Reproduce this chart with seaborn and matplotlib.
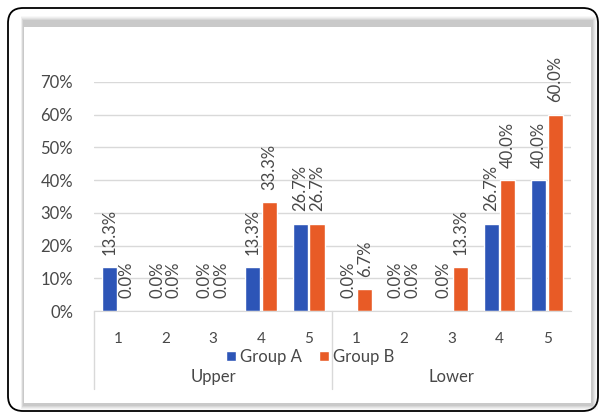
import matplotlib
matplotlib.use("Agg")
import matplotlib.pyplot as plt
from matplotlib.patches import FancyBboxPatch, Rectangle
from matplotlib.lines import Line2D
import seaborn as sns
import pandas as pd

# --- data -------------------------------------------------------------
sections = ["Upper", "Lower"]
levels = ["1", "2", "3", "4", "5"]
groups = ["Group A", "Group B"]
upper_a = [13.3, 0.0, 0.0, 13.3, 26.7]
upper_b = [0.0, 0.0, 0.0, 33.3, 26.7]
lower_a = [0.0, 0.0, 0.0, 26.7, 40.0]
lower_b = [6.7, 0.0, 13.3, 40.0, 60.0]
y_ticks = [0, 10, 20, 30, 40, 50, 60, 70]

colors = {"Group A": "#2D55B7", "Group B": "#E85B26"}
text_color = "#484848"

rows = []
for sec, a_vals, b_vals in [("Upper", upper_a, upper_b), ("Lower", lower_a, lower_b)]:
    for lvl, a, b in zip(levels, a_vals, b_vals):
        rows.append({"cat": f"{sec}-{lvl}", "group": "Group A", "value": a})
        rows.append({"cat": f"{sec}-{lvl}", "group": "Group B", "value": b})
df = pd.DataFrame(rows)
order = [f"{s}-{l}" for s in sections for l in levels]

# --- figure -----------------------------------------------------------
sns.set_style("white")
plt.rcParams["font.family"] = ["Lato", "DejaVu Sans"]
W, H = 604, 419
fig = plt.figure(figsize=(W / 100, H / 100), dpi=100)
fig.patch.set_facecolor("white")

def fx(px):
    return px / W

def fy(py):
    return 1 - py / H

# rounded outer border
fig.patches.append(FancyBboxPatch(
    (fx(8), fy(411)), fx(590), 403 / H,
    boxstyle="round,pad=0,rounding_size=0.025",
    transform=fig.transFigure, facecolor="white", edgecolor="black",
    linewidth=1.3, zorder=0, mutation_aspect=W / H))

# soft shadow around the inner panel
for i, a in enumerate([0.05, 0.07, 0.09, 0.12, 0.15]):
    g = 5 - i
    fig.patches.append(Rectangle(
        (fx(23 - g * 0.5), fy(405 + g)), fx(569 + g * 1.6), (384 + g * 2.0) / H,
        transform=fig.transFigure, facecolor="#7A7A7A", edgecolor="none",
        alpha=a, zorder=0.5))
fig.patches.append(Rectangle(
    (fx(24), fy(403)), fx(567), 376 / H,
    transform=fig.transFigure, facecolor="white", edgecolor="none", zorder=0.6))

ax = fig.add_axes([fx(94), fy(311), fx(477), 229 / H])
ax.set_facecolor("none")
ax.set_zorder(2)

sns.barplot(data=df, x="cat", y="value", hue="group", order=order,
            hue_order=groups, palette=colors, width=0.7, gap=0.1,
            saturation=1, ax=ax, legend=False)

ax.set_ylim(0, 70)
ax.set_xlim(-0.5, len(order) - 0.5)
ax.set_yticks(y_ticks)
ax.set_yticklabels([f"{t}%" for t in y_ticks], fontsize=12, color=text_color)
ax.tick_params(axis="y", length=0, pad=15)
ax.grid(axis="y", color="#D9D9D9", linewidth=1)
ax.set_axisbelow(True)
for s in ["top", "right", "left"]:
    ax.spines[s].set_visible(False)
ax.spines["bottom"].set_color("#D9D9D9")
ax.set_xlabel("")
ax.set_ylabel("")

# level numbers under each category
ax.set_xticks(range(len(order)))
ax.set_xticklabels(levels * len(sections), fontsize=11, color=text_color)
ax.tick_params(axis="x", length=0, pad=15)

# value labels above bars
for cont in ax.containers:
    ax.bar_label(cont, labels=[f"{v:.1f}%" for v in cont.datavalues],
                 rotation=90, padding=9, fontsize=12, color=text_color)

# section separators and names
for xp in [94, 332]:
    fig.add_artist(Line2D([fx(xp), fx(xp)], [fy(311), fy(389)],
                          transform=fig.transFigure, color="#D9D9D9", lw=1))
for name, xc in zip(sections, [213, 451]):
    fig.text(fx(xc), fy(377), name, ha="center", va="center",
             fontsize=12, color=text_color)

handles = [Rectangle((0, 0), 1, 1, facecolor=colors[g]) for g in groups]
fig.legend(handles, groups, loc="center", bbox_to_anchor=(fx(310), fy(357)),
           ncol=2, frameon=False, fontsize=12, handlelength=0.6,
           handleheight=0.6, handletextpad=0.25, columnspacing=1.0,
           labelcolor=text_color, borderpad=0)

fig.savefig("out.png", dpi=100)
